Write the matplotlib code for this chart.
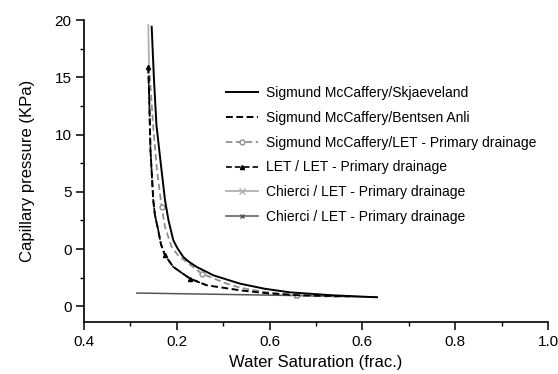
import numpy as np
import matplotlib
matplotlib.use('Agg')
import matplotlib.pyplot as plt
from matplotlib.ticker import MultipleLocator

plt.rcParams['font.family'] = ['Liberation Sans', 'DejaVu Sans']

# tick positions and the labels as printed on the reference
x_ticks = [0.0, 0.2, 0.4, 0.6, 0.8, 1.0]
x_tick_labels = ['0.4', '0.2', '0.6', '0.6', '0.8', '1.0']
y_ticks = [-5, 0, 5, 10, 15, 20]
y_tick_labels = ['0', '0', '5', '10', '15', '20']

# Sigmund McCaffery/Skjaeveland
sw_skj = [0.1459, 0.1509, 0.1562, 0.1659, 0.1746, 0.1821, 0.1925, 0.2015, 0.2140, 0.2274,
          0.2429, 0.2787, 0.3362, 0.3901, 0.4440, 0.5366, 0.6315]
pc_skj = [19.41, 14.76, 10.82, 7.33, 4.27, 2.52, 0.77, 0.07, -0.69, -1.15,
          -1.56, -2.29, -3.02, -3.47, -3.78, -4.04, -4.21]

# Sigmund McCaffery/Bentsen Anli
sw_ba = [0.1386, 0.1407, 0.1433, 0.1493, 0.1530, 0.1601, 0.1659, 0.1746, 0.1925, 0.2284,
         0.2644, 0.3362, 0.3944, 0.4655, 0.5733]
pc_ba = [15.92, 13.00, 8.64, 4.27, 2.95, 1.64, 0.42, -0.54, -1.56, -2.58,
         -3.16, -3.60, -3.86, -4.04, -4.13]

# Sigmund McCaffery/LET - Primary drainage
sw_sm_let = [0.1401, 0.1498, 0.1573, 0.1675, 0.1746, 0.1890, 0.2026, 0.2213, 0.2537, 0.3075,
             0.3362, 0.3901, 0.4584, 0.5517]
pc_sm_let = [16.07, 10.38, 6.89, 3.68, 1.93, 0.18, -0.54, -1.13, -2.14, -3.02,
             -3.37, -3.75, -4.04, -4.17]

# LET / LET - Primary drainage
sw_let = [0.1386, 0.1407, 0.1433, 0.1493, 0.1530, 0.1601, 0.1659, 0.1746, 0.1925, 0.2284,
          0.2644]
pc_let = [15.92, 13.00, 8.64, 4.27, 2.95, 1.64, 0.42, -0.54, -1.56, -2.58, -3.16]

# Chierci / LET - Primary drainage (light)
sw_chi1 = [0.1386, 0.1394, 0.1401]
pc_chi1 = [19.56, 17.81, 16.07]

# Chierci / LET - Primary drainage (dark)
sw_chi2 = [0.114, 0.458, 0.631]
pc_chi2 = [-3.84, -4.06, -4.19]

fig = plt.figure(figsize=(5.58, 3.74), dpi=100)
ax = fig.add_axes([0.1505, 0.139, 0.8315, 0.8075])

ax.plot(sw_chi2, pc_chi2, color='#555555', lw=1.1, marker='x', ms=3, markevery=[1],
        label='Chierci / LET - Primary drainage', zorder=2)
ax.plot(sw_chi1, pc_chi1, color='#b0b0b0', lw=1.3, marker='x', ms=4, markevery=[],
        label='Chierci / LET - Primary drainage', zorder=2)
ax.plot(sw_sm_let, pc_sm_let, color='#8f8f8f', lw=1.3, ls=(0, (3.5, 2)), marker='o', ms=3.5,
        mfc='white', mec='#8f8f8f', markevery=[3, 8, 12],
        label='Sigmund McCaffery/LET - Primary drainage', zorder=3)
ax.plot(sw_ba, pc_ba, color='black', lw=1.4, ls=(0, (3.5, 1.8)),
        label='Sigmund McCaffery/Bentsen Anli', zorder=4)
ax.plot(sw_let, pc_let, color='black', lw=1.2, ls=(0, (3.5, 1.8)), marker='^', ms=3,
        mfc='black', mec='black', markevery=[0, 7, 9],
        label='LET / LET - Primary drainage', zorder=4)
ax.plot(sw_skj, pc_skj, color='black', lw=1.4, label='Sigmund McCaffery/Skjaeveland', zorder=5)

ax.set_xlim(0, 1.0)
ax.set_ylim(-6.37, 20)
ax.set_xticks(x_ticks)
ax.set_xticklabels(x_tick_labels)
ax.set_yticks(y_ticks)
ax.set_yticklabels(y_tick_labels)
ax.xaxis.set_minor_locator(MultipleLocator(0.1))
ax.yaxis.set_minor_locator(MultipleLocator(2.5))
ax.tick_params(which='major', direction='out', length=5.5, width=1.1, labelsize=11, colors='black')
ax.tick_params(which='minor', direction='out', length=3, width=1.0)
ax.spines['top'].set_visible(False)
ax.spines['right'].set_visible(False)
for s in ['left', 'bottom']:
    ax.spines[s].set_linewidth(1.2)

ax.set_xlabel('Water Saturation (frac.)', fontsize=12, labelpad=5)
ax.set_ylabel('Capillary pressure (KPa)', fontsize=12, labelpad=14)

# legend in the order of the reference
handles, labels = ax.get_legend_handles_labels()
order = [5, 3, 2, 4, 1, 0]
ax.legend([handles[i] for i in order], [labels[i] for i in order],
          loc='upper left', bbox_to_anchor=(226 / 558, 1 - 86 / 374), bbox_transform=fig.transFigure,
          frameon=False, fontsize=10, handlelength=2.3, handletextpad=0.6, labelspacing=0.78,
          borderaxespad=0, borderpad=0)

fig.savefig('out.png', dpi=100)
